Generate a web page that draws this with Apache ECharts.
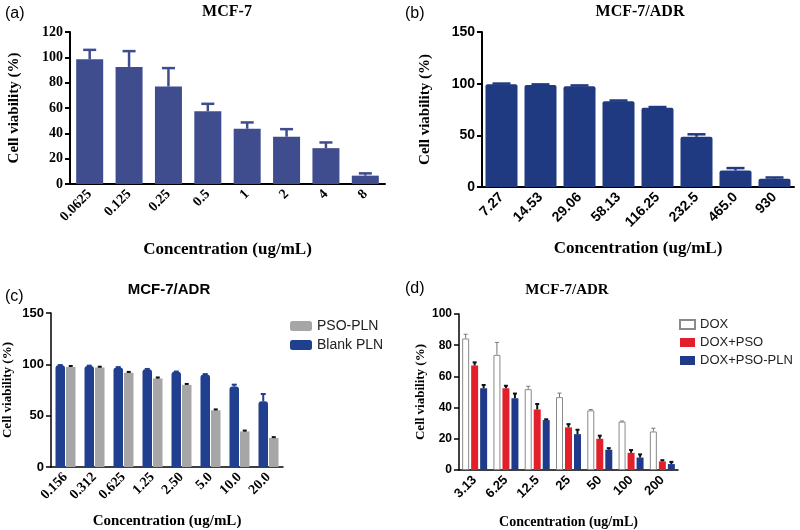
<!DOCTYPE html>
<html>
<head>
<meta charset="utf-8">
<script src="https://cdn.jsdelivr.net/npm/echarts@6/dist/echarts.min.js"></script>
<style>html,body{margin:0;padding:0;background:#fff}#c{width:800px;height:530px}</style>
</head>
<body>
<div id="c"></div>
<script>
// Panel (a) MCF-7
var catsA = ['0.0625','0.125','0.25','0.5','1','2','4','8'];
var valsA = [98.4, 92.4, 77, 57.5, 43.6, 37.3, 28.3, 6.6];
var errA  = [7.5, 12.5, 14.5, 5.8, 5, 6, 4.5, 1.8];
var ticksA = [0, 120, 20];
// Panel (b) MCF-7/ADR
var catsB = ['7.27','14.53','29.06','58.13','116.25','232.5','465.0','930'];
var valsB = [99.5, 98.8, 97.5, 83, 76.8, 48.6, 16, 8];
var errB  = [0.6, 0.5, 0.8, 0.7, 0.6, 2.4, 2.3, 1.2];
var ticksB = [0, 150, 50];
// Panel (c) MCF-7/ADR
var catsC = ['0.156','0.312','0.625','1.25','2.50','5.0','10.0','20.0'];
var blankC = [99, 98.4, 97, 95.2, 92.7, 90.2, 78.4, 64.1];
var blankErrC = [0.3, 0.3, 0.3, 0.3, 0.3, 0.3, 1.8, 7];
var psoC = [97.5, 96.8, 91.7, 86.3, 80, 55.2, 34.6, 28.3];
var psoErrC = [0.9, 0.9, 0.9, 0.9, 0.9, 0.9, 0.9, 0.8];
var ticksC = [0, 150, 50];
// Panel (d) MCF-7/ADR
var catsD = ['3.13','6.25','12.5','25','50','100','200'];
var doxD = [84.3, 73.8, 51.8, 46.7, 38.2, 31, 24.7];
var doxErrD = [2.7, 8, 1.9, 2.6, 0.6, 0.4, 2.1];
var doxPsoD = [67, 52.4, 38.8, 27.3, 20, 11, 5.5];
var doxPsoErrD = [2, 1.6, 3.5, 2.1, 2, 1.8, 0.8];
var doxPlnD = [52.4, 46, 32, 23, 13, 8, 3.8];
var doxPlnErrD = [2.1, 3, 0.5, 2.8, 1, 2, 1.4];
var ticksD = [0, 100, 20];

var SERIF = '"Liberation Serif", "Times New Roman", serif';
var SANS = '"Liberation Sans", Arial, sans-serif';

function errData(vals, errs) {
  return vals.map(function (v, i) { return [i, v, v + errs[i]]; });
}
function errRender(offset, capW, color, lw) {
  return function (params, api) {
    var x = api.value(0), v = api.value(1), hi = api.value(2);
    var p0 = api.coord([x, v]);
    var p1 = api.coord([x, hi]);
    var cx = p0[0] + offset;
    return {
      type: 'group',
      children: [
        { type: 'line', shape: { x1: cx, y1: p0[1], x2: cx, y2: p1[1] }, style: { stroke: color, lineWidth: lw } },
        { type: 'line', shape: { x1: cx - capW / 2, y1: p1[1], x2: cx + capW / 2, y2: p1[1] }, style: { stroke: color, lineWidth: lw } }
      ]
    };
  };
}
function errSeries(idx, vals, errs, offset, capW, color, lw) {
  return {
    type: 'custom', xAxisIndex: idx, yAxisIndex: idx, z: 5,
    renderItem: errRender(offset, capW, color, lw),
    encode: { x: 0, y: [1, 2] },
    data: errData(vals, errs),
    silent: true
  };
}
function xAx(idx, cats, labelFont, labelSize, nameGap, nameSize, lw) {
  return {
    type: 'category', gridIndex: idx, data: cats,
    axisLine: { lineStyle: { color: '#000', width: lw } },
    axisTick: { alignWithLabel: true, length: 5, lineStyle: { color: '#000', width: lw } },
    axisLabel: { rotate: 45, color: '#000', fontFamily: labelFont, fontWeight: 'bold', fontSize: labelSize, margin: 8 },
    name: 'Concentration (ug/mL)', nameLocation: 'middle', nameGap: nameGap,
    nameTextStyle: { fontFamily: SERIF, fontWeight: 'bold', fontSize: nameSize, color: '#000' }
  };
}
function yAx(idx, t, labelFont, labelSize, nameGap, nameSize, lw) {
  return {
    type: 'value', gridIndex: idx, min: t[0], max: t[1], interval: t[2],
    splitLine: { show: false },
    axisLine: { show: true, lineStyle: { color: '#000', width: lw } },
    axisTick: { show: true, length: 5, lineStyle: { color: '#000', width: lw } },
    axisLabel: { color: '#000', fontFamily: labelFont, fontWeight: 'bold', fontSize: labelSize, margin: 7 },
    name: 'Cell viability (%)', nameLocation: 'middle', nameGap: nameGap, nameRotate: 90,
    nameTextStyle: { fontFamily: SERIF, fontWeight: 'bold', fontSize: nameSize, color: '#000' }
  };
}
function txt(x, y, s, font, align) {
  return { type: 'text', x: x, y: y, style: { text: s, font: font, fill: '#000', align: align || 'center', verticalAlign: 'middle', textAlign: align || 'center', textVerticalAlign: 'middle' } };
}

var colA = '#3f4d8f', colB = '#1f3a80', colCBlue = '#213f8f', colCGray = '#a6a6a6';
var colRed = '#e2202c', colDBlue = '#1f3a8a';

var wC = 9.5, gC = 1;
var offC = (wC + gC) / 2;
var wD = 7, gD = 2;
var offD = wD + gD;

var option = {
  backgroundColor: '#fff',
  animation: false,
  grid: [
    { left: 70, top: 32, width: 315, height: 152 },
    { left: 482, top: 32, width: 312, height: 155 },
    { left: 49, top: 313, width: 234, height: 158 },
    { left: 459, top: 314, width: 219, height: 159 }
  ],
  xAxis: [
    xAx(0, catsA, SERIF, 14, 57, 17, 2),
    xAx(1, catsB, SANS, 14, 53, 17, 2),
    xAx(2, catsC, SERIF, 14, 47, 15, 1.5),
    xAx(3, catsD, SANS, 13, 45, 14, 1.5)
  ],
  yAxis: [
    yAx(0, ticksA, SERIF, 14, 48, 15, 2),
    yAx(1, ticksB, SANS, 14, 49, 15, 2),
    yAx(2, ticksC, SANS, 13, 37, 13, 1.5),
    yAx(3, ticksD, SANS, 12, 32, 13, 1.5)
  ],
  legend: [
    {
      data: ['PSO-PLN', 'Blank PLN'], orient: 'vertical', left: 285, top: 314,
      icon: 'roundRect', itemWidth: 22, itemHeight: 10, itemGap: 5,
      textStyle: { fontFamily: SANS, fontSize: 14, color: '#222' }
    },
    {
      data: ['DOX', 'DOX+PSO', 'DOX+PSO-PLN'], orient: 'vertical', left: 674, top: 313,
      icon: 'rect', itemWidth: 15, itemHeight: 9, itemGap: 5,
      textStyle: { fontFamily: SANS, fontSize: 13, color: '#222' }
    }
  ],
  graphic: [
    txt(5, 14, '(a)', '16px ' + SANS, 'left'),
    txt(227, 12, 'MCF-7', 'bold 16px ' + SERIF),
    txt(405, 14, '(b)', '16px ' + SANS, 'left'),
    txt(640, 12, 'MCF-7/ADR', 'bold 16px ' + SERIF),
    txt(5, 297, '(c)', '16px ' + SANS, 'left'),
    txt(169, 290, 'MCF-7/ADR', 'bold 15px ' + SANS),
    txt(405, 289, '(d)', '16px ' + SANS, 'left'),
    txt(567, 290, 'MCF-7/ADR', 'bold 15px ' + SERIF)
  ],
  series: [
    { type: 'bar', xAxisIndex: 0, yAxisIndex: 0, data: valsA, barWidth: 27, itemStyle: { color: colA } },
    errSeries(0, valsA, errA, 0, 13, colA, 2.5),
    { type: 'bar', xAxisIndex: 1, yAxisIndex: 1, data: valsB, barWidth: 32, itemStyle: { color: colB, borderRadius: [2, 2, 0, 0] } },
    errSeries(1, valsB, errB, 0, 18, colB, 2.5),
    { name: 'Blank PLN', type: 'bar', xAxisIndex: 2, yAxisIndex: 2, data: blankC, barWidth: wC, barGap: (gC / wC * 100) + '%', itemStyle: { color: colCBlue, borderRadius: [3, 3, 0, 0] } },
    { name: 'PSO-PLN', type: 'bar', xAxisIndex: 2, yAxisIndex: 2, data: psoC, barWidth: wC, barGap: (gC / wC * 100) + '%', itemStyle: { color: colCGray } },
    errSeries(2, blankC, blankErrC, -offC, 5, colCBlue, 2),
    errSeries(2, psoC, psoErrC, offC, 4, '#111', 2),
    { name: 'DOX', type: 'bar', xAxisIndex: 3, yAxisIndex: 3, data: doxD, barWidth: wD, barGap: (gD / wD * 100) + '%', itemStyle: { color: '#fff', borderColor: '#8a8a8a', borderWidth: 1 } },
    { name: 'DOX+PSO', type: 'bar', xAxisIndex: 3, yAxisIndex: 3, data: doxPsoD, barWidth: wD, barGap: (gD / wD * 100) + '%', itemStyle: { color: colRed } },
    { name: 'DOX+PSO-PLN', type: 'bar', xAxisIndex: 3, yAxisIndex: 3, data: doxPlnD, barWidth: wD, barGap: (gD / wD * 100) + '%', itemStyle: { color: colDBlue } },
    errSeries(3, doxD, doxErrD, -offD, 4, '#777', 1),
    errSeries(3, doxPsoD, doxPsoErrD, 0, 4, '#111', 2),
    errSeries(3, doxPlnD, doxPlnErrD, offD, 4, '#111', 2)
  ]
};
var chart = echarts.init(document.getElementById('c'), null, { renderer: 'canvas' });
chart.setOption(option);
</script>
</body>
</html>
